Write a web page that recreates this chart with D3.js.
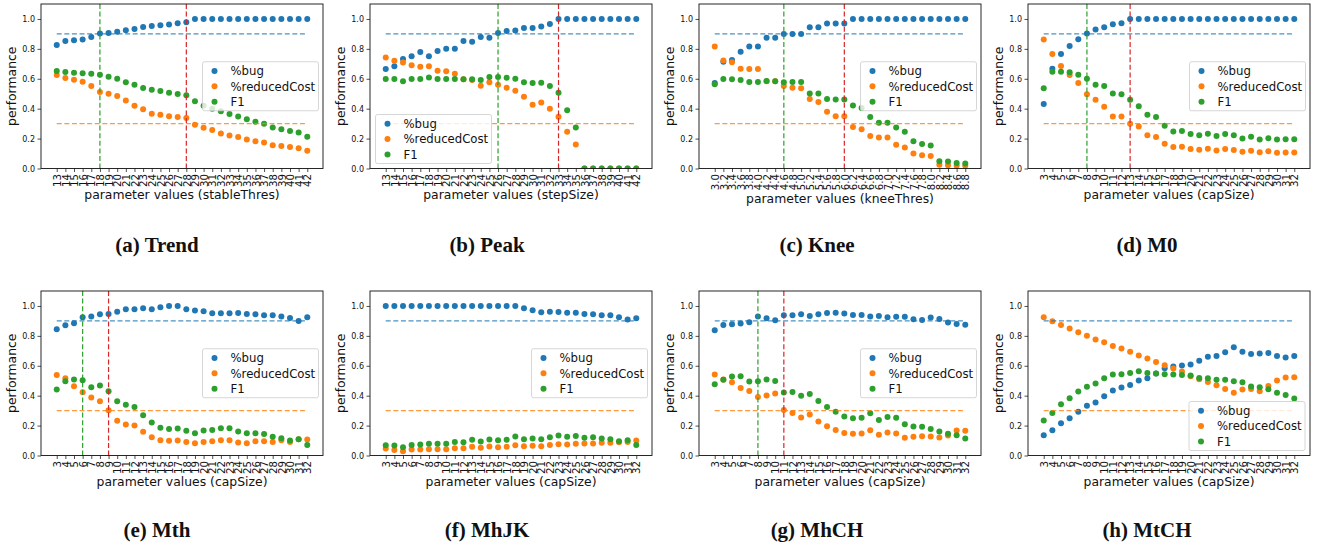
<!DOCTYPE html>
<html><head><meta charset="utf-8">
<script src="https://cdn.jsdelivr.net/npm/d3@7"></script>
<style>
body{margin:0;background:#fff}
svg text{font-family:"DejaVu Sans",sans-serif;fill:#111}
</style>
</head><body>
<svg id="chart" width="1320" height="555"></svg>
<script>
// ---------- tick labels ----------
const stableThresTicks = ["13","14","15","16","17","18","19","20","21","22","23","24","25","26","27","28","29","30","31","32","33","34","35","36","37","38","39","40","41","42"];
const stepSizeTicks = ["13","14","15","16","17","18","19","20","21","22","23","24","25","26","27","28","29","30","31","32","33","34","35","36","37","38","39","40","41","42"];
const kneeThresTicks = ["3.0","3.2","3.4","3.6","3.8","4.0","4.2","4.4","4.6","4.8","5.0","5.2","5.4","5.6","5.8","6.0","6.2","6.4","6.6","6.8","7.0","7.2","7.4","7.6","7.8","8.0","8.2","8.4","8.6","8.8"];
const capSizeTicks = ["3","4","5","6","7","8","9","10","11","12","13","14","15","16","17","18","19","20","21","22","23","24","25","26","27","28","29","30","31","32"];
const yTicks = [0.0,0.2,0.4,0.6,0.8,1.0];
const seriesNames = ["%bug","%reducedCost","F1"];

// ---------- (a) Trend ----------
const trendBug  = [0.826,0.852,0.857,0.862,0.879,0.902,0.906,0.915,0.925,0.933,0.946,0.953,0.958,0.963,0.971,0.978,1,1,1,1,1,1,1,1,1,1,1,1,1,1];
const trendCost = [0.625,0.605,0.594,0.58,0.551,0.511,0.5,0.484,0.455,0.42,0.397,0.366,0.359,0.35,0.344,0.337,0.292,0.272,0.257,0.234,0.221,0.21,0.194,0.183,0.174,0.156,0.15,0.143,0.136,0.118];
const trendF1   = [0.652,0.645,0.641,0.637,0.634,0.627,0.614,0.6,0.576,0.56,0.538,0.527,0.518,0.507,0.498,0.489,0.449,0.42,0.40,0.383,0.364,0.348,0.33,0.312,0.299,0.275,0.263,0.25,0.241,0.212];
// ---------- (b) Peak ----------
const peakBug  = [0.665,0.683,0.732,0.75,0.779,0.75,0.786,0.8,0.8,0.853,0.848,0.879,0.875,0.906,0.92,0.922,0.94,0.94,0.949,0.967,1,1,1,1,1,1,1,1,1,1];
const peakCost = [0.743,0.721,0.708,0.69,0.681,0.683,0.654,0.65,0.634,0.596,0.592,0.554,0.576,0.56,0.54,0.52,0.48,0.426,0.442,0.4,0.346,0.246,0.161,0,0,0,0,0,0,0];
const peakF1   = [0.598,0.598,0.583,0.598,0.598,0.609,0.598,0.598,0.598,0.596,0.596,0.592,0.612,0.612,0.607,0.6,0.576,0.571,0.574,0.551,0.507,0.39,0.275,0,0,0,0,0,0,0];
// ---------- (c) Knee ----------
const kneeBug  = [0.571,0.714,0.725,0.781,0.815,0.815,0.875,0.875,0.9,0.9,0.9,0.944,0.944,0.969,0.969,0.969,1,1,1,1,1,1,1,1,1,1,1,1,1,1];
const kneeCost = [0.815,0.723,0.71,0.667,0.665,0.665,0.583,0.583,0.551,0.54,0.536,0.464,0.444,0.379,0.35,0.35,0.277,0.263,0.217,0.208,0.208,0.158,0.141,0.1,0.089,0.083,0.025,0.022,0.018,0.018];
const kneeF1   = [0.563,0.598,0.596,0.592,0.578,0.578,0.585,0.583,0.576,0.578,0.578,0.502,0.502,0.464,0.462,0.462,0.422,0.404,0.344,0.306,0.306,0.275,0.246,0.183,0.163,0.154,0.049,0.047,0.036,0.033];
// ---------- (d) M0 ----------
const m0Bug  = [0.431,0.667,0.766,0.819,0.864,0.902,0.929,0.944,0.964,0.971,1,1,1,1,1,1,1,1,1,1,1,1,1,1,1,1,1,1,1,1];
const m0Cost = [0.862,0.766,0.685,0.625,0.571,0.496,0.46,0.413,0.348,0.348,0.299,0.281,0.223,0.21,0.165,0.143,0.145,0.13,0.125,0.132,0.121,0.13,0.123,0.112,0.118,0.109,0.116,0.105,0.107,0.107];
const m0F1   = [0.536,0.647,0.647,0.643,0.627,0.6,0.56,0.551,0.502,0.496,0.46,0.417,0.359,0.344,0.286,0.248,0.25,0.23,0.223,0.232,0.217,0.23,0.223,0.2,0.212,0.194,0.203,0.194,0.196,0.196];
// ---------- (e) Mth ----------
const mthBug  = [0.844,0.871,0.884,0.924,0.929,0.944,0.947,0.962,0.978,0.978,0.984,0.978,0.991,1,1,0.978,0.969,0.964,0.951,0.951,0.951,0.953,0.947,0.944,0.938,0.938,0.929,0.92,0.9,0.924];
const mthCost = [0.539,0.517,0.463,0.423,0.388,0.363,0.303,0.232,0.207,0.2,0.158,0.122,0.102,0.098,0.1,0.091,0.082,0.091,0.096,0.102,0.102,0.087,0.082,0.096,0.096,0.091,0.102,0.091,0.109,0.107];
const mthF1   = [0.441,0.497,0.508,0.503,0.457,0.468,0.43,0.363,0.339,0.325,0.269,0.22,0.185,0.178,0.18,0.165,0.149,0.167,0.171,0.183,0.183,0.16,0.149,0.149,0.143,0.125,0.116,0.1,0.109,0.071];
// ---------- (f) MhJK ----------
const mhjkBug  = [1,1,1,1,1,1,1,1,1,1,1,1,1,1,1,1,0.984,0.971,0.958,0.962,0.96,0.955,0.955,0.947,0.944,0.938,0.938,0.924,0.909,0.918];
const mhjkCost = [0.047,0.036,0.029,0.04,0.04,0.042,0.042,0.042,0.049,0.049,0.058,0.051,0.06,0.056,0.058,0.069,0.062,0.065,0.062,0.071,0.076,0.073,0.078,0.08,0.08,0.085,0.085,0.089,0.091,0.1];
const mhjkF1   = [0.069,0.067,0.056,0.071,0.073,0.078,0.078,0.078,0.091,0.089,0.105,0.094,0.107,0.102,0.105,0.127,0.109,0.114,0.109,0.122,0.134,0.125,0.131,0.118,0.122,0.114,0.109,0.096,0.102,0.071];
// ---------- (g) MhCH ----------
const mhchBug  = [0.837,0.873,0.878,0.882,0.891,0.929,0.918,0.904,0.938,0.938,0.944,0.933,0.944,0.953,0.955,0.949,0.94,0.94,0.929,0.933,0.924,0.927,0.927,0.911,0.906,0.922,0.913,0.889,0.88,0.875];
const mhchCost = [0.541,0.508,0.49,0.452,0.432,0.392,0.401,0.414,0.305,0.285,0.254,0.274,0.227,0.196,0.171,0.151,0.145,0.147,0.169,0.138,0.154,0.147,0.118,0.125,0.129,0.127,0.12,0.134,0.167,0.165];
const mhchF1   = [0.477,0.506,0.528,0.53,0.494,0.497,0.508,0.499,0.421,0.425,0.399,0.412,0.365,0.325,0.292,0.261,0.249,0.252,0.283,0.238,0.258,0.252,0.209,0.194,0.192,0.178,0.16,0.145,0.136,0.114];
// ---------- (h) MtCH ----------
const mtchBug  = [0.136,0.169,0.216,0.249,0.292,0.332,0.354,0.396,0.434,0.454,0.472,0.501,0.517,0.548,0.584,0.595,0.601,0.608,0.633,0.661,0.666,0.69,0.724,0.693,0.679,0.682,0.686,0.666,0.655,0.666];
const mtchCost = [0.924,0.898,0.873,0.849,0.824,0.8,0.775,0.757,0.733,0.715,0.693,0.668,0.648,0.626,0.604,0.581,0.561,0.53,0.51,0.492,0.47,0.445,0.419,0.441,0.445,0.43,0.465,0.501,0.521,0.523];
const mtchF1   = [0.234,0.285,0.343,0.383,0.428,0.459,0.481,0.517,0.541,0.543,0.552,0.563,0.552,0.548,0.543,0.541,0.539,0.535,0.519,0.517,0.506,0.506,0.497,0.49,0.461,0.457,0.443,0.419,0.405,0.381];

// thresholds (reference lines)
const bugTarget = 0.9, costTarget = 0.3;

const panels = [
  {ticks:stableThresTicks, series:[trendBug,trendCost,trendF1], param:"stableThres", caption:"(a) Trend", green:"18", red:"28", legend:"cr"},
  {ticks:stepSizeTicks,    series:[peakBug,peakCost,peakF1],    param:"stepSize",    caption:"(b) Peak",  green:"26", red:"33", legend:"ll"},
  {ticks:kneeThresTicks,   series:[kneeBug,kneeCost,kneeF1],    param:"kneeThres",   caption:"(c) Knee",  green:"4.6", red:"6.0", legend:"cr"},
  {ticks:capSizeTicks,     series:[m0Bug,m0Cost,m0F1],          param:"capSize",     caption:"(d) M0",    green:"8", red:"13", legend:"cr"},
  {ticks:capSizeTicks,     series:[mthBug,mthCost,mthF1],       param:"capSize",     caption:"(e) Mth",   green:"6", red:"9", legend:"cr"},
  {ticks:capSizeTicks,     series:[mhjkBug,mhjkCost,mhjkF1],    param:"capSize",     caption:"(f) MhJK",  green:null, red:null, legend:"cr"},
  {ticks:capSizeTicks,     series:[mhchBug,mhchCost,mhchF1],    param:"capSize",     caption:"(g) MhCH",  green:"8", red:"11", legend:"cr"},
  {ticks:capSizeTicks,     series:[mtchBug,mtchCost,mtchF1],    param:"capSize",     caption:"(h) MtCH",  green:null, red:null, legend:"lr"}
];

const colors = ["#1f77b4","#ff7f0e","#2ca02c"];
const RED = "#d62728";

const colLeft = [41, 370, 699, 1028];
const rowTop = [4, 291];
const W = 282, H = 164.5;
const capX = [157, 487, 817, 1147];
const capY = [251.5, 537];

const svg = d3.select("#chart");

panels.forEach((p, k) => {
  const col = k % 4, row = Math.floor(k / 4);
  const g = svg.append("g").attr("transform", `translate(${colLeft[col]},${rowTop[row]})`);
  const x = d3.scalePoint().domain(p.ticks).range([0, W]).padding(1.82);
  const y = d3.scaleLinear().domain([0, 1.1]).range([H, 0]);

  const clipId = "clip" + k;
  g.append("clipPath").attr("id", clipId).append("rect").attr("width", W).attr("height", H);

  // y axis
  const ya = g.append("g").call(d3.axisLeft(y).tickValues(yTicks).tickFormat(d3.format(".1f")).tickSize(3.5).tickPadding(2.5));
  ya.select(".domain").remove();
  ya.selectAll("line").attr("stroke", "#222").attr("stroke-width", 0.8);
  ya.selectAll("text").style("font-size", "8px").style("font-family", "DejaVu Sans");

  // x axis
  const xa = g.append("g").attr("transform", `translate(0,${H})`).call(d3.axisBottom(x).tickSize(3.5));
  xa.select(".domain").remove();
  xa.selectAll("line").attr("stroke", "#222").attr("stroke-width", 0.8);
  xa.selectAll("text")
    .attr("transform", "rotate(-90)")
    .attr("x", -5.5).attr("y", 0).attr("dy", "0.36em")
    .style("text-anchor", "end").style("font-size", "10.2px").style("font-family", "DejaVu Sans");

  const tb = xa.node().getBBox();
  g.append("text").attr("x", W / 2).attr("y", H + tb.y + tb.height + 12.5)
    .attr("text-anchor", "middle").style("font-size", "12.4px")
    .text(`parameter values (${p.param})`);

  g.append("text").attr("transform", `translate(-25,${H / 2}) rotate(-90)`)
    .attr("text-anchor", "middle").style("font-size", "12.4px").text("performance");

  // scatter
  const plot = g.append("g").attr("clip-path", `url(#${clipId})`);
  p.series.forEach((vals, s) => {
    plot.append("g").selectAll("circle").data(vals).join("circle")
      .attr("cx", (d, i) => x(p.ticks[i])).attr("cy", d => y(d)).attr("r", 3)
      .attr("fill", colors[s]);
  });

  // reference lines
  const x0 = x(p.ticks[0]), x1 = x(p.ticks[p.ticks.length - 1]);
  const lines = g.append("g").attr("fill", "none").attr("stroke-width", 1.2).attr("stroke-dasharray", "5,2.6");
  lines.append("line").attr("x1", x0).attr("x2", x1).attr("y1", y(bugTarget)).attr("y2", y(bugTarget)).attr("stroke", colors[0]).attr("stroke-opacity", 0.8);
  lines.append("line").attr("x1", x0).attr("x2", x1).attr("y1", y(costTarget)).attr("y2", y(costTarget)).attr("stroke", colors[1]).attr("stroke-opacity", 0.8);
  if (p.green) lines.append("line").attr("x1", x(p.green)).attr("x2", x(p.green)).attr("y1", 0).attr("y2", H).attr("stroke", colors[2]);
  if (p.red) lines.append("line").attr("x1", x(p.red)).attr("x2", x(p.red)).attr("y1", 0).attr("y2", H).attr("stroke", RED);

  // legend
  const LW = 116, LH = 49;
  let lx, ly;
  if (p.legend === "cr") { lx = W - 4.5 - LW; ly = H / 2 - LH / 2; }
  else if (p.legend === "ll") { lx = 5.5; ly = H - 5 - LH; }
  else { lx = W - 5 - LW; ly = H - 5 - LH; }
  const lg = g.append("g").attr("transform", `translate(${lx},${ly})`);
  lg.append("rect").attr("width", LW).attr("height", LH).attr("rx", 2)
    .attr("fill", "#fff").attr("fill-opacity", 0.8).attr("stroke", "#cccccc").attr("stroke-width", 0.8);
  seriesNames.forEach((nm, s) => {
    const cy = 9.3 + s * 15.3;
    lg.append("circle").attr("cx", 12).attr("cy", cy).attr("r", 3).attr("fill", colors[s]);
    lg.append("text").attr("x", 28).attr("y", cy + 4.2).style("font-size", "11.7px").text(nm);
  });

  // frame
  g.append("rect").attr("width", W).attr("height", H).attr("fill", "none").attr("stroke", "#111").attr("stroke-width", 0.9);

  // caption
  svg.append("text").attr("x", capX[col]).attr("y", capY[row]).attr("text-anchor", "middle")
    .style("font-family", "'Liberation Serif', serif").style("font-weight", "bold").style("font-size", "21px")
    .text(p.caption);
});
</script>
</body></html>
